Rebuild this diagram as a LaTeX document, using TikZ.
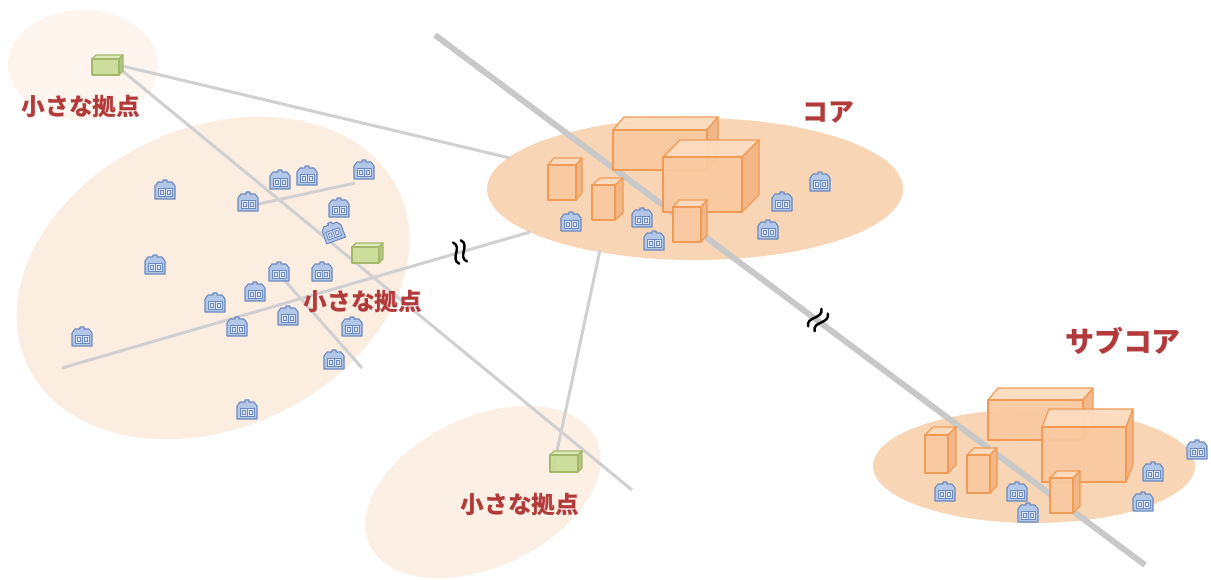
\documentclass[tikz,border=0pt]{standalone}
\usepackage{fontspec}
\newfontfamily\jpfont{Noto Sans CJK JP}
\usepackage{tikz}
\definecolor{zone}{HTML}{FCEDE1}
\definecolor{corezone}{HTML}{F8D5B5}
\definecolor{road}{HTML}{D0D0D0}
\definecolor{trunk}{HTML}{C8C8C8}
\definecolor{labelred}{HTML}{B33A3A}
\definecolor{housefill}{HTML}{B3C7E8}
\definecolor{houseline}{HTML}{6D8AC0}
\definecolor{housewin}{HTML}{DCE6F6}
\definecolor{boxline}{HTML}{F19A55}
\definecolor{boxfront}{HTML}{FAC9A1}
\definecolor{boxtop}{HTML}{FCDCBF}
\definecolor{boxside}{HTML}{F2B585}
\definecolor{siteline}{HTML}{A3B86A}
\definecolor{sitefront}{HTML}{C9DC98}
\definecolor{sitetop}{HTML}{DDEAB8}
\definecolor{siteside}{HTML}{AFC47E}
\tikzset{x=0.02cm, y=-0.02cm,
    road/.style={draw=road, line width=1.7pt},
    trunk/.style={draw=trunk, line width=3.4pt},
    tag/.style={text=labelred, inner sep=0pt,
        font=\jpfont\bfseries\fontsize{13.5}{15}\selectfont},
    front face/.style={draw=boxline, fill=boxfront},
    top face/.style={draw=boxline, fill=boxtop},
    side face/.style={draw=boxline, fill=boxside},
    green box/.style={front face/.style={draw=siteline, fill=sitefront},
        top face/.style={draw=siteline, fill=sitetop},
        side face/.style={draw=siteline, fill=siteside}},
    pics/crate/.style args={#1/#2/#3/#4}{code={
        \begin{scope}[line width=0.7pt, line join=round, fill opacity=0.94]
        \path[top face] (0,-#2) -- ++(#3,-#4) -- ++(#1,0) -- ++(-#3,#4) -- cycle;
        \path[side face] (#1,0) -- ++(#3,-#4) -- ++(0,-#2) -- ++(-#3,#4) -- cycle;
        \path[front face] (0,0) rectangle (#1,-#2);
        \end{scope}
    }},
    pics/house/.style={code={
        \path[draw=houseline, fill=housefill, line width=0.6pt, line join=round]
            (-10,9) -- (10,9) -- (10,-4) -- (7,-8) -- (2,-8) -- (2,-10) -- (-2,-10)
            -- (-2,-8) -- (-7,-8) -- (-10,-4) -- cycle;
        \path[draw=houseline, fill=housewin, line width=0.5pt] (-7,-2) rectangle (7,6);
        \draw[houseline, line width=0.5pt] (0,-2) -- (0,6) (-5,0) rectangle (-2,4) (2,0) rectangle (5,4);
    }},
    pics/cut/.style={code={
        \begin{scope}[rotate=#1]
        \foreach \s in {-4,4}
            \draw[black, line width=1.4pt, line cap=round]
                (\s,-11) .. controls (\s+8,-4) and (\s-8,4) .. (\s,11);
        \end{scope}
    }}}

\begin{document}
\begin{tikzpicture}
\useasboundingbox (0,0) rectangle (1211,579);
\fill[white] (0,0) rectangle (1211,579);

\fill[zone!55] (83,65) ellipse [x radius=75, y radius=55];
\fill[zone, rotate around={25:(213,278)}] (213,278) ellipse [x radius=205, y radius=150];
\fill[zone!85, rotate around={25:(483,492)}] (483,492) ellipse [x radius=125, y radius=75];
\fill[corezone] (695,189) ellipse [x radius=208, y radius=71];
\fill[corezone] (1034,466) ellipse [x radius=161, y radius=57];

\coordinate (g1) at (114,64);
\coordinate (core-w) at (510,158);
\coordinate (c-s) at (632,490);
\coordinate (a-w) at (62,368);
\coordinate (a-e) at (530,232);
\coordinate (b-w) at (240,208);
\coordinate (b-e) at (355,183);
\coordinate (d-n) at (272,266);
\coordinate (d-s) at (362,368);
\coordinate (e-n) at (600,250);
\coordinate (e-s) at (553,470);
\coordinate (t-n) at (435,35);
\coordinate (t-s) at (1145,565);

\draw[road] (g1) -- (core-w);
\draw[road] (g1) -- (c-s);
\draw[road] (a-w) -- (a-e);
\draw[road] (b-w) -- (b-e);
\draw[road] (d-n) -- (d-s);
\draw[road] (e-n) -- (e-s);
\draw[trunk] (t-n) -- (t-s);

\foreach \p in {(165,190),(248,202),(280,180),(307,176),(364,170),(339,208),
    (155,265),(279,272),(322,272),(255,292),(215,303),(288,316),(237,327),
    (352,327),(82,337),(334,360),(247,410),
    (571,222),(642,218),(654,241),(820,182),(782,202),(768,230),
    (945,492),(1017,492),(1028,513),(1197,450),(1153,472),(1143,502)}
    \pic at \p {house};
\pic[rotate=20] at (333,232) {house};

\pic at (613,170) {crate=94/40/11/13};
\pic at (548,200) {crate=28/35/6/7};
\pic at (592,220) {crate=23/35/8/7};
\pic at (663,212) {crate=79/55/17/17};
\pic at (673,242) {crate=28/35/6/7};

\pic at (988,440) {crate=95/40/10/12};
\pic at (925,473) {crate=23/38/8/8};
\pic at (967,493) {crate=23/38/7/7};
\pic at (1042,482) {crate=84/55/7/18};
\pic at (1050,513) {crate=23/35/7/7};

\pic[green box] at (92,75) {crate=27/16/4/4};
\pic[green box] at (352,263) {crate=27/16/4/4};
\pic[green box] at (550,472) {crate=28/17/4/4};

\pic at (460,252) {cut=16};
\pic at (818,320) {cut=-37};

\node[tag] (site1) at (81,107) {小さな拠点};
\node[tag] (site2) at (363,302) {小さな拠点};
\node[tag] (site3) at (520,505) {小さな拠点};
\node[tag, font=\jpfont\bfseries\fontsize{14.7}{16}\selectfont] (core) at (828,112) {コア};
\node[tag, font=\jpfont\bfseries\fontsize{16.5}{18}\selectfont] (subcore) at (1123,341) {サブコア};
\end{tikzpicture}
\end{document}
